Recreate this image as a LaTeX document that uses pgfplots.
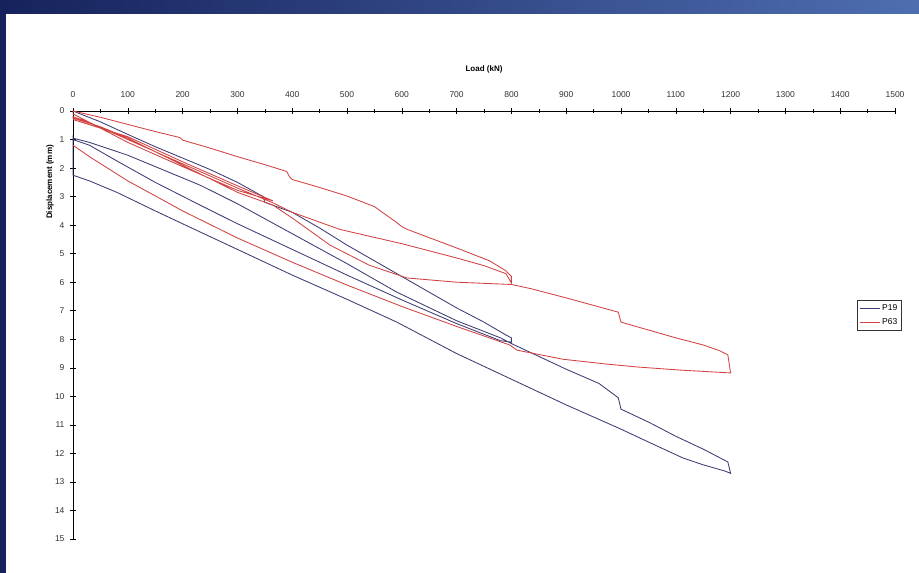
\documentclass[border=0pt]{standalone}
\usepackage{pgfplots}
\pgfplotsset{compat=1.18}
\usepackage{fontspec}
\setmainfont{Liberation Sans}
\definecolor{pnavy}{RGB}{22,34,92}
\definecolor{plight}{RGB}{78,110,176}
\definecolor{cPnineteen}{RGB}{60,60,118}
\definecolor{cPsixtythree}{RGB}{210,66,66}
\begin{document}
\begin{tikzpicture}
\useasboundingbox (0,0) rectangle (919pt,573pt);
\fill[white] (0,0) rectangle (919pt,573pt);
\shade[left color=pnavy,right color=plight] (0,559pt) rectangle (919pt,573pt);
\fill[pnavy] (0,0) rectangle (6pt,573pt);
\begin{axis}[
  at={(73pt,34pt)}, anchor=south west,
  scale only axis, width=822pt, height=428pt,
  xmin=0, xmax=1500, ymin=0, ymax=15, y dir=reverse,
  axis x line*=top, axis y line*=left,
  axis line style={black, line width=0.8pt},
  xtick={0,100,...,1500}, ytick={0,1,...,15},
  minor x tick num=1,
  tick align=center,
  major tick length=6pt, minor tick length=4pt,
  tick style={black, line width=0.6pt},
  /pgf/number format/assume math mode=true,
  /pgf/number format/1000 sep={},
  ticklabel style={font=\fontsize{8.5}{10}\selectfont, text=black!80},
  xticklabel style={yshift=7pt},
  yticklabel style={xshift=-2pt},
  xlabel={\textbf{Load (kN)}},
  xlabel style={at={(axis description cs:0.5,1)}, anchor=south, yshift=34pt, font=\fontsize{8}{10}\selectfont},
  ylabel={\textbf{Displacement (mm)}},
  ylabel style={at={(axis description cs:-0.028,0.834)}, anchor=center, font=\fontsize{8}{10}\selectfont},
  legend style={at={(axis description cs:0.954,0.558)}, anchor=north west,
    font=\fontsize{8.5}{10}\selectfont, draw=black!80, inner sep=2pt, row sep=3pt,
    cells={anchor=west}},
  legend image code/.code={\draw[#1] (0pt,0pt) -- (20pt,0pt);},
  clip=false,
]
\addplot[cPnineteen, line width=0.85pt] coordinates {
(0,0) (50,0.38) (100,0.82) (150,1.25) (200,1.65) (250,2.05) (300,2.5) (347,3.0) (350,3.2)
(400,3.55) (450,4.1) (500,4.7) (550,5.25) (600,5.8) (650,6.35) (700,6.9) (750,7.4)
(790,7.85) (800,7.95) (800,8.1)
(780,8.05) (700,7.45) (600,6.62) (500,5.75) (400,4.85) (300,3.95) (232,3.3) (150,2.5)
(80,1.75) (30,1.2) (0,1.0)
(0,0.95) (30,1.1) (100,1.55) (232,2.6) (300,3.25) (400,4.3) (500,5.35) (591,6.35)
(700,7.35) (780,7.95) (800,8.15)
(850,8.6) (900,9.05) (960,9.55) (995,10.05) (1000,10.45) (1050,10.9) (1100,11.4)
(1150,11.85) (1195,12.3) (1200,12.7)
(1190,12.62) (1150,12.4) (1113,12.16) (1050,11.6) (1000,11.15) (900,10.3) (800,9.4)
(700,8.5) (591,7.4) (500,6.6) (400,5.75) (300,4.85) (232,4.24) (150,3.5) (80,2.85)
(30,2.45) (0,2.25) (0,0.85)
};
\addlegendentry{P19}
\addplot[cPsixtythree, line width=0.85pt] coordinates {
(0,0.3) (100,0.9) (200,1.78) (300,2.62) (365,3.15) (300,2.78) (200,1.95) (100,1.1) (0,0.1)
(0,0) (50,0.22) (100,0.47) (150,0.72) (195,0.93) (200,1.02) (250,1.3) (300,1.6) (350,1.88)
(390,2.12) (395,2.3) (400,2.4) (450,2.68) (500,2.98) (550,3.35) (590,3.9) (600,4.05)
(610,4.15) (700,4.8) (760,5.25) (790,5.6) (800,5.8) (800,6.03)
(790,5.7) (750,5.42) (700,5.15) (600,4.65) (487,4.15) (400,3.55) (365,3.22) (300,2.7)
(200,1.85) (100,1.0) (30,0.4) (0,0.2)
(0,0.25) (50,0.55) (100,0.95) (200,1.9) (300,2.85) (365,3.3) (400,3.75) (469,4.7)
(540,5.4) (609,5.85) (700,6.0) (800,6.08) (834,6.22) (900,6.55) (995,7.05) (1000,7.4)
(1100,7.95) (1150,8.2) (1180,8.4) (1195,8.55) (1200,9.18)
(1108,9.08) (1029,8.97) (974,8.87) (894,8.7) (810,8.38) (797,8.2) (700,7.55) (600,6.85)
(500,6.1) (400,5.3) (300,4.45) (200,3.5) (100,2.45) (30,1.6) (0,1.2)
};
\addlegendentry{P63}
\end{axis}
\end{tikzpicture}
\end{document}
